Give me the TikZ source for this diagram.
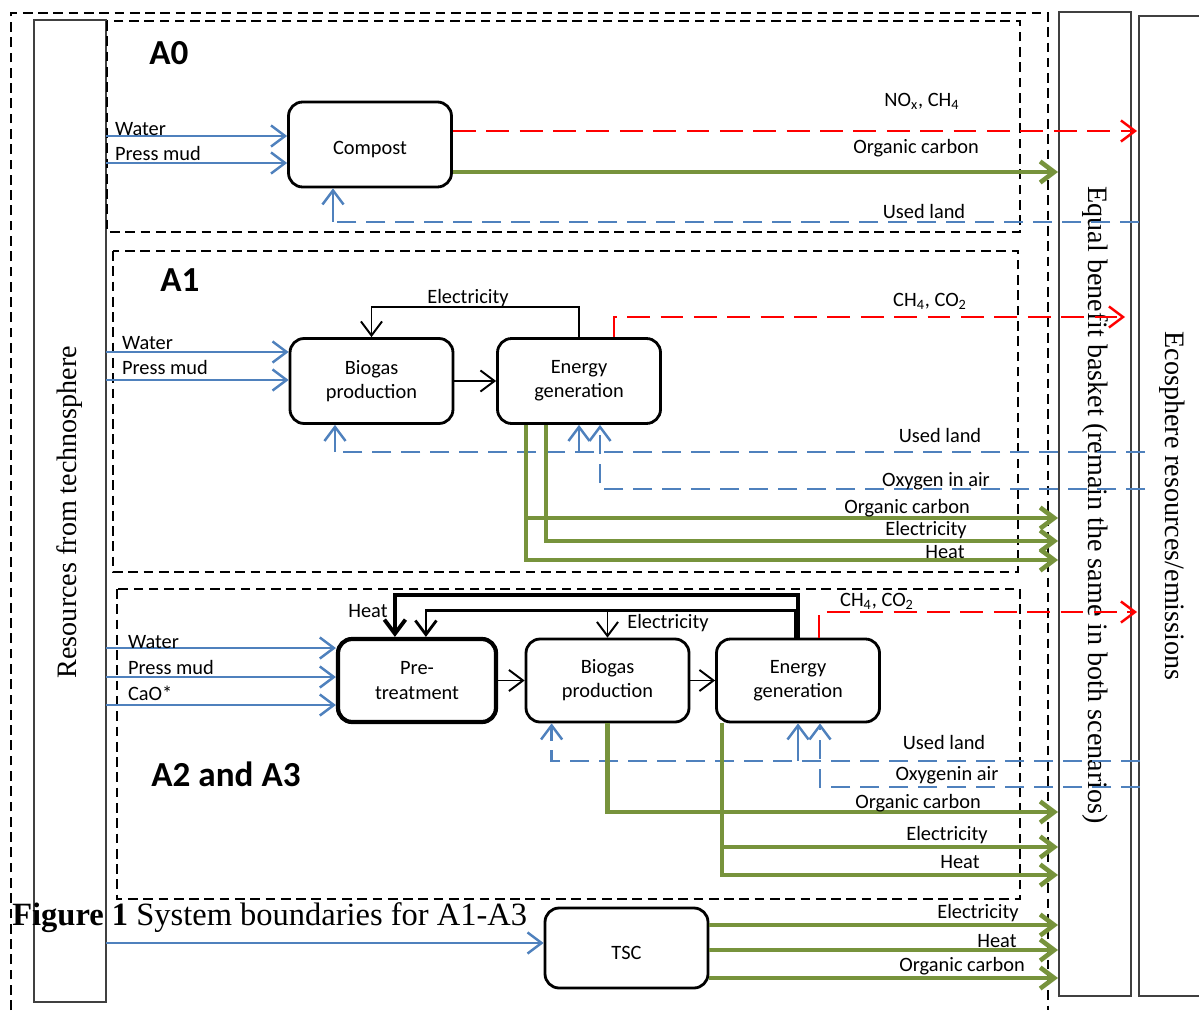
\documentclass[tikz,border=0pt]{standalone}
\usepackage{fontspec}
\setmainfont{Liberation Serif}
\newfontfamily\calfont{Carlito}
\usetikzlibrary{arrows.meta,calc}
\definecolor{resblue}{HTML}{4F81BD}
\definecolor{prodgreen}{HTML}{77933C}
\definecolor{emitred}{HTML}{FF0000}

\begin{document}
\begin{tikzpicture}[x=0.02cm,y=-0.02cm,
  >={Straight Barb[length=8pt,width=12pt]},
  lbl/.style={font=\calfont\fontsize{11.6}{13.7}\selectfont, inner sep=1pt},
  stage/.style={font=\calfont\bfseries\fontsize{20}{24}\selectfont},
  proc/.style={draw, line width=1.6pt, rounded corners=8pt, minimum width=3.26cm, minimum height=1.7cm, align=center, execute at begin node={\rule{0pt}{13pt}}, font=\calfont\fontsize{11.6}{13.7}\selectfont},
  bound/.style={draw, line width=1.3pt, dash pattern=on 5.5pt off 3.2pt},
  sphere/.style={draw=black!75, line width=0.8pt, minimum width=1.44cm},
  vtext/.style={font=\fontsize{16}{19}\selectfont},
  flow/.style={->, line width=1.1pt},
  inflow/.style={->, draw=resblue, line width=1.4pt},
  res/.style={->, draw=resblue, line width=1.4pt},
  dashres/.style={draw=resblue, line width=1.4pt, dash pattern=on 11pt off 5.5pt},
  emit/.style={->, draw=emitred, line width=1.4pt, dash pattern=on 13pt off 6pt},
  prod/.style={->, draw=prodgreen, line width=2.6pt}]
\useasboundingbox (0,0) rectangle (1199,1013);

\draw[bound] (11,1010) -- (11,13) -- (1048,13) -- (1048,1010);
\draw (70,511) node[sphere, minimum height=19.64cm](techno) {};
\draw (1095,504) node[sphere, minimum height=19.68cm](basket) {};
\draw (1175,506) node[sphere, minimum height=19.6cm](eco) {};
\draw (70,512) node[vtext, rotate=90](technotxt) {Resources from technosphere};
\draw (1095,505) node[vtext, rotate=-90](baskettxt) {Equal benefit basket (remain the same in both scenarios)};
\draw (1172,506) node[vtext, rotate=-90](ecotxt) {Ecosphere resources/emissions};

\draw[bound] (107,21) rectangle (1020,232);
\draw[bound] (113,251) rectangle (1018,572);
\draw[bound] (117,589) rectangle (1020,899);
\draw (169,53) node[stage](a0) {A0};
\draw (180,280) node[stage](a1) {A1};
\draw (226,774) node[stage](a2) {A2 and A3};

\draw (370,144.5) node[proc](compost) {Compost};
\draw (371.5,381) node[proc](bioA) {Biogas\\production};
\draw (579,381) node[proc](engA) {Energy\\generation};
\draw (417,680.5) node[proc, line width=2.4pt, minimum width=3.16cm, minimum height=1.66cm](pre) {Pre-\\treatment};
\draw (607.5,680.5) node[proc, minimum height=1.66cm](bioB) {Biogas\\production};
\draw (798,680.5) node[proc, minimum height=1.66cm](engB) {Energy\\generation};
\draw (626.5,948) node[proc, minimum height=1.6cm, execute at begin node={\rule{0pt}{10.5pt}}](tsc) {TSC};

\coordinate (wat0) at (106,136);
\coordinate (mud0) at (106,163);
\coordinate (nox0) at (1137,131);
\coordinate (oc0) at (1058,172);
\coordinate (land0) at (1139,222);
\coordinate (land0c) at (333,222);
\draw[inflow] (wat0) -- (compost.west |- wat0);
\draw[inflow] (mud0) -- (compost.west |- mud0);
\draw[emit] (compost.east |- nox0) -- (nox0);
\draw[prod] (compost.east |- oc0) -- (oc0);
\draw[dashres] (land0) -- (land0c);
\draw[res] (land0c) -- (compost.south -| land0c);
\draw (113,129) node[lbl, anchor=west](twat0) {Water};
\draw (113,154) node[lbl, anchor=west](tmud0) {Press mud};
\draw (922,101) node[lbl](tnox0) {NO\textsubscript{x}, CH\textsubscript{4}};
\draw (916,148) node[lbl](toc0) {Organic carbon};
\draw (924,212) node[lbl](tland0) {Used land};

\coordinate (watA) at (106,352);
\coordinate (mudA) at (106,380);
\coordinate (ghgA) at (1125,317);
\coordinate (landA) at (1145,452);
\coordinate (landAc) at (335,452);
\coordinate (oxA) at (1145,489);
\coordinate (ocA) at (1058,518);
\coordinate (elA) at (1058,541);
\coordinate (htA) at (1058,560);
\draw[inflow] (watA) -- (bioA.west |- watA);
\draw[inflow] (mudA) -- (bioA.west |- mudA);
\draw[flow] (bioA) -- (engA);
\draw[flow] (engA.north) -- ++(0,-30) -| (bioA.north);
\draw[emit] ($(engA.north east)+(-48,0)$) |- (ghgA);
\draw[dashres] (landA) -- (landAc);
\draw[res] (landAc) -- (bioA.south -| landAc);
\draw[res] (engA.south |- landA) -- (engA.south);
\draw[dashres, ->] (oxA) -| ($(engA.south)+(21,0)$);
\draw[prod] ($(engA.south west)+(30,0)$) |- (ocA);
\draw[prod] ($(engA.south west)+(30,0)$) |- (htA);
\draw[prod] ($(engA.south west)+(50,0)$) |- (elA);
\draw (120,343) node[lbl, anchor=west](twatA) {Water};
\draw (120,367) node[lbl, anchor=west](tmudA) {Press mud};
\draw (468,298) node[lbl](telloopA) {Electricity};
\draw (930,301) node[lbl](tghgA) {CH\textsubscript{4}, CO\textsubscript{2}};
\draw (940,435) node[lbl](tlandA) {Used land};
\draw (936,481) node[lbl](toxA) {Oxygen in air};
\draw (907,508) node[lbl](tocA) {Organic carbon};
\draw (926,530) node[lbl](telA) {Electricity};
\draw (945,552) node[lbl](thtA) {Heat};

\coordinate (watB) at (106,648);
\coordinate (mudB) at (106,677);
\coordinate (caoB) at (106,705);
\coordinate (ghgB) at (1137,612);
\coordinate (landB) at (1140,761);
\coordinate (oxB) at (1140,787);
\coordinate (ocB) at (1058,812);
\coordinate (elB) at (1058,847);
\coordinate (htB) at (1058,875);
\draw[inflow] (watB) -- (pre.west |- watB);
\draw[inflow] (mudB) -- (pre.west |- mudB);
\draw[inflow] (caoB) -- (pre.west |- caoB);
\draw[flow] (pre) -- (bioB);
\draw[flow] (bioB) -- (engB);
\draw[flow, line width=2.2pt] ($(engB.north west)+(83,0)$) -- ++(0,-43) -| ($(pre.north west)+(59,0)$);
\draw[flow, line width=1.6pt] ($(engB.north west)+(80,0)$) -- ++(0,-27) -| ($(pre.north west)+(90,0)$);
\draw[flow] ($(bioB.north)+(0,-27)$) -- (bioB.north);
\draw[emit] ($(engB.north west)+(104,0)$) |- (ghgB);
\draw[dashres, ->] (landB) -| ($(bioB.south west)+(27,0)$);
\draw[res] (engB.south |- landB) -- (engB.south);
\draw[dashres, ->] (oxB) -| ($(engB.south)+(22,0)$);
\draw[prod] (bioB.south) |- (ocB);
\draw[prod] ($(engB.south west)+(7,0)$) |- (elB);
\draw[prod] ($(engB.south west)+(7,0)$) |- (htB);
\draw (126,642) node[lbl, anchor=west](twatB) {Water};
\draw (126,667) node[lbl, anchor=west](tmudB) {Press mud};
\draw (126,693) node[lbl, anchor=west](tcaoB) {CaO*};
\draw (368,611) node[lbl](theatB) {Heat};
\draw (668,623) node[lbl](telloopB) {Electricity};
\draw (877,601) node[lbl](tghgB) {CH\textsubscript{4}, CO\textsubscript{2}};
\draw (944,742) node[lbl](tlandB) {Used land};
\draw (947,775) node[lbl](toxB) {Oxygenin air};
\draw (918,803) node[lbl](tocB) {Organic carbon};
\draw (947,835) node[lbl](telB) {Electricity};
\draw (960,862) node[lbl](thtB) {Heat};

\coordinate (tscin) at (106,943);
\coordinate (elT) at (1058,925);
\coordinate (htT) at (1058,950);
\coordinate (ocT) at (1058,978);
\draw[inflow] (tscin) -- (tsc.west |- tscin);
\draw[prod] (tsc.east |- elT) -- (elT);
\draw[prod] (tsc.east |- htT) -- (htT);
\draw[prod] (tsc.east |- ocT) -- (ocT);
\draw (978,913) node[lbl](telT) {Electricity};
\draw (997,941) node[lbl](thtT) {Heat};
\draw (962,966) node[lbl](tocT) {Organic carbon};

\draw (12,918) node[anchor=west, inner sep=0pt, font=\fontsize{18.5}{22}\selectfont](caption) {\textbf{Figure 1} System boundaries for A1-A3};
\end{tikzpicture}
\end{document}
